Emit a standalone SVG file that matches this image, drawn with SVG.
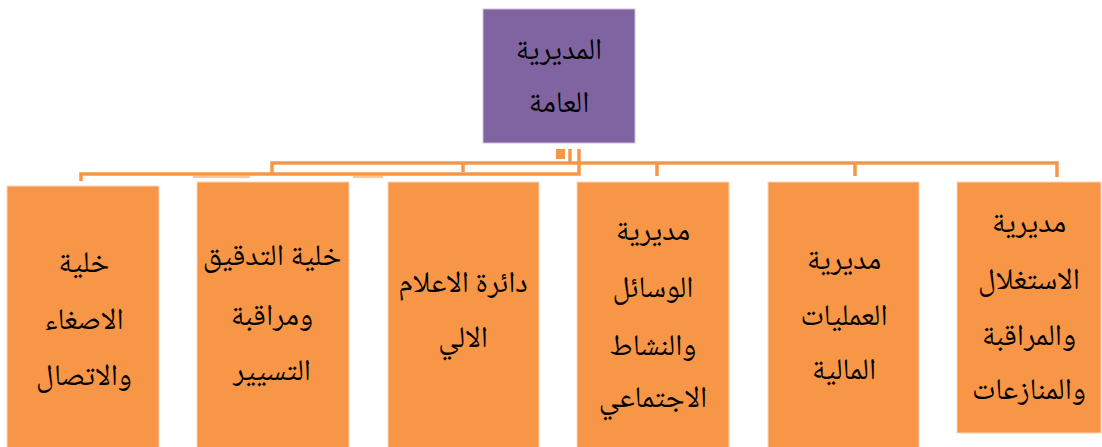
<svg xmlns="http://www.w3.org/2000/svg" width="1102" height="447" viewBox="0 0 1102 447">
<style>
.box{fill:#F79646;stroke:#FBD5B5;stroke-width:1}
.top{fill:#8064A2;stroke:#CCC1DA;stroke-width:1}
.t{font-family:"Noto Naskh Arabic","Noto Sans Arabic","Liberation Sans","DejaVu Sans",sans-serif;font-size:30px;fill:#000;text-anchor:middle}
.c{stroke:#F79646;stroke-width:3.5;fill:none}
.f{stroke:#F9B47C;stroke-width:1.5;fill:none}
</style>
<rect width="1102" height="447" fill="#fff"/>
<g id="connectors">
<path class="c" d="M81,181 V174 H579 V149"/>
<path class="c" d="M272,174 V163 H1057 V177"/>
<path class="c" d="M463,163 V172"/>
<path class="c" d="M657,163 V176"/>
<path class="c" d="M855,163 V176"/>
<path class="c" d="M570,149 V163"/>
<rect x="556" y="149" width="9" height="10" fill="#F79646"/>
<path class="f" d="M193,177 H250"/>
<path class="f" d="M353,177 H383"/>
</g>
<g id="n0">
<rect class="top" x="483" y="9" width="152" height="134"/>
<text class="t" x="559" y="59">المديرية</text>
<text class="t" x="559" y="112">العامة</text>
</g>
<g id="n1">
<rect class="box" x="7" y="186" width="152" height="270"/>
<text class="t" x="84" y="272">خلية</text>
<text class="t" x="84" y="329">الاصغاء</text>
<text class="t" x="84" y="385">والاتصال</text>
</g>
<g id="n2">
<rect class="box" x="197" y="182" width="152" height="270"/>
<text class="t" x="272" y="265">خلية التدقيق</text>
<text class="t" x="272" y="325">ومراقبة</text>
<text class="t" x="272" y="380">التسيير</text>
</g>
<g id="n3">
<rect class="box" x="388" y="182" width="151" height="270"/>
<text class="t" x="463" y="292">دائرة الاعلام</text>
<text class="t" x="463" y="347">الالي</text>
</g>
<g id="n4">
<rect class="box" x="577" y="182" width="152" height="270"/>
<text class="t" x="653" y="240">مديرية</text>
<text class="t" x="653" y="297">الوسائل</text>
<text class="t" x="653" y="355">والنشاط</text>
<text class="t" x="653" y="407">الاجتماعي</text>
</g>
<g id="n5">
<rect class="box" x="768" y="182" width="151" height="270"/>
<text class="t" x="844" y="269">مديرية</text>
<text class="t" x="844" y="325">العمليات</text>
<text class="t" x="844" y="379">المالية</text>
</g>
<g id="n6">
<rect class="box" x="957" y="182" width="144" height="251"/>
<text class="t" x="1029" y="232">مديرية</text>
<text class="t" x="1029" y="289">الاستغلال</text>
<text class="t" x="1029" y="345">والمراقبة</text>
<text class="t" x="1029" y="399">والمنازعات</text>
</g>
</svg>
